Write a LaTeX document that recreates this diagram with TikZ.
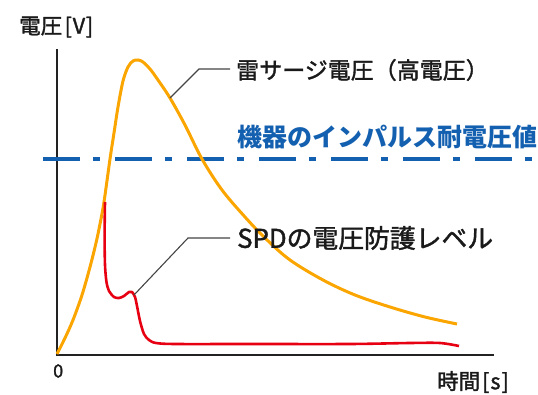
\documentclass[tikz,border=0pt]{standalone}
\usepackage{fontspec}
\setmainfont{Noto Sans CJK JP}
\newfontfamily\medfont{Noto Sans CJK JP}[FakeBold=1.6]
\definecolor{txt}{HTML}{1A1A1A}
\definecolor{axisc}{HTML}{222222}
\definecolor{leadc}{HTML}{444444}
\definecolor{bluec}{HTML}{1460B0}
\definecolor{orangec}{HTML}{FBA600}
\definecolor{redc}{HTML}{E60012}
\begin{document}
\begin{tikzpicture}[x=1pt,y=-1pt,
  axis/.style={draw=axisc,line width=2pt},
  lead/.style={draw=leadc,line width=1.1pt},
  lbl/.style={inner sep=0pt,anchor=west,text=txt},
  limit/.style={draw=bluec,line width=3.5pt,dash pattern=on 37pt off 13pt on 7pt off 15pt},
  surgecurve/.style={draw=orangec,line width=3pt,line join=round},
  spdcurve/.style={draw=redc,line width=2.6pt,line join=round}]
\useasboundingbox (0,0) rectangle (538,395);
% axes
\coordinate (O) at (57,355);
\coordinate (ytop) at (57,49);
\coordinate (xend) at (494,355);
\draw[axis] (ytop) -- (O) -- (xend);
% limit line
\coordinate (dl) at (43,159);
\coordinate (dr) at (533,159);
\draw[limit] (dl) -- (dr);
% surge curve
\draw[surgecurve] plot[smooth,tension=0.55] coordinates {(57,354) (65,338) (73,320) (82,295) (90,267) (96,243) (100,224) (104,202) (110,159) (114,133) (118,107) (123,81) (128,67) (133,61) (138,60) (143,62) (150,69) (158,80) (170,98) (185,125) (202,159) (222,190) (245,217) (265,238) (290,260) (323,280) (355,295) (390,307) (425,317) (457,324)};
% SPD curve
\draw[spdcurve] plot[smooth,tension=0.5] coordinates {(105,202) (104.6,235) (105,265) (106.5,282) (109,291) (114,297) (119,298) (124,296) (129,292) (132,292) (135,297) (137,306) (140,321) (144,334) (149,340) (156,343) (175,344) (250,344) (350,344) (410,343) (440,343) (459,346)};
% labels
\node[lbl,font=\medfont\fontsize{21.5}{21.5}\selectfont] (ylab) at (19,27) {電圧\kern2.5pt[\kern0.8pt V\kern0.8pt]};
\node[lbl,font=\medfont\fontsize{18}{18}\selectfont] (zero) at (53,371) {0};
\node[lbl,font=\medfont\fontsize{21.5}{21.5}\selectfont] (xlab) at (437,382) {時間\kern2pt[\kern1pt s\kern1pt]};
\node[lbl,font=\medfont\fontsize{23}{23}\selectfont] (surge) at (236,70) {雷サージ電圧（高電圧）};
\node[lbl,font=\bfseries\fontsize{25}{25}\selectfont,text=bluec] (limitlab) at (237,137) {機器のインパルス耐電圧値};
\node[lbl,font=\medfont\fontsize{25.8}{25.8}\selectfont] (spd) at (237,238) {SPDの電圧防護レベル};
% leaders
\coordinate (s1) at (170,98);
\coordinate (k1) at (199,69);
\draw[lead] (s1) -- (k1) -- ([xshift=-6pt]surge.west |- k1);
\coordinate (s2) at (134,295);
\coordinate (k2) at (188,238);
\draw[lead] (s2) -- (k2) -- ([xshift=-7pt]spd.west |- k2);
\end{tikzpicture}
\end{document}
